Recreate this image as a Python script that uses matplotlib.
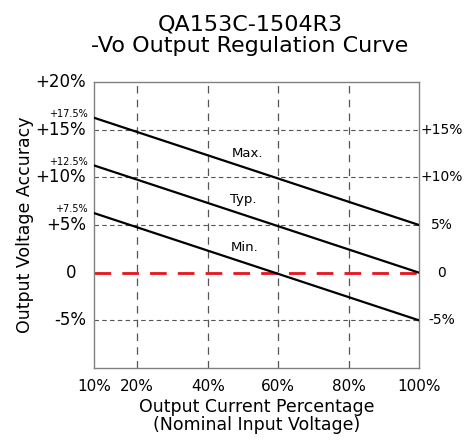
import matplotlib
matplotlib.use("Agg")
import matplotlib.pyplot as plt
import matplotlib.transforms as mtransforms

# Data
x_left = 7.7          # left edge of the axis, labelled "10%"
current_pct = [x_left, 100]
max_curve = [16.25, 5]
typ_curve = [11.25, 0]
min_curve = [6.25, -5]

x_ticks = [x_left, 20, 40, 60, 80, 100]
x_tick_labels = ['10%', '20%', '40%', '60%', '80%', '100%']
x_grid = [20, 40, 60, 80]

left_vals = [20, 15, 10, 5, 0, -5]
left_labels = ['+20%', '+15%', '+10%', '+5%', '0', '-5%']
right_vals = [15, 10, 5, 0, -5]
right_labels = ['+15%', '+10%', '5%', '0', '-5%']
y_grid = [15, 10, 5, -5]

start_vals = [16.6, 11.6, 6.7]
start_labels = ['+17.5%', '+12.5%', '+7.5%']

curve_names = ['Max.', 'Typ.', 'Min.']
name_pos = [(51.4, 12.5), (50, 7.7), (50.6, 2.6)]

fig = plt.figure(figsize=(4.67, 4.40), dpi=100)
ax = fig.add_axes([94 / 467, 72 / 440, 325 / 467, 286 / 440])

ax.set_xlim(x_left, 100)
ax.set_ylim(-10, 20)

# grid
for gx in x_grid:
    ax.axvline(gx, color='#555555', linestyle=(0, (6, 5)), linewidth=0.9, zorder=1)
for gy in y_grid:
    ax.axhline(gy, color='#555555', linestyle=(0, (4, 3)), linewidth=0.8, zorder=1)

# zero line
ax.plot([x_left, 100], [0, 0], color='#e8141c', linestyle=(0, (6, 4)),
        linewidth=2, zorder=2)

# curves
for vals in (max_curve, typ_curve, min_curve):
    ax.plot(current_pct, vals, color='black', linewidth=1.6, zorder=3)

for name, (nx, ny) in zip(curve_names, name_pos):
    ax.text(nx, ny, name, fontsize=9.5, ha='center', va='center')

# axis ticks
ax.set_xticks(x_ticks)
ax.set_xticklabels(x_tick_labels, fontsize=11)
ax.tick_params(axis='x', length=0, pad=8)
ax.set_yticks([])

trans_left = mtransforms.blended_transform_factory(ax.transAxes, ax.transData)
for v, lab in zip(left_vals, left_labels):
    xpos = -0.055 if lab == '0' else -0.025
    ax.text(xpos, v, lab, transform=trans_left, fontsize=12,
            ha='right', va='center')
for v, lab in zip(right_vals, right_labels):
    ax.text(1.07, v, lab, transform=trans_left, fontsize=10,
            ha='center', va='center')
for v, lab in zip(start_vals, start_labels):
    ax.text(-0.02, v, lab, transform=trans_left, fontsize=7,
            ha='right', va='center')

for sp in ax.spines.values():
    sp.set_color('#808080')
    sp.set_linewidth(1)

ax.set_xlabel('Output Current Percentage\n(Nominal Input Voltage)',
              fontsize=12.5, labelpad=3, linespacing=1.0)
fig.text(25 / 467, 1 - 225 / 440, 'Output Voltage Accuracy', rotation=90,
         fontsize=12.5, ha='center', va='center')

fig.text(250 / 467, 1 - 35 / 440, 'QA153C-1504R3\n-Vo Output Regulation Curve',
         fontsize=16, ha='center', va='center', linespacing=1.1)

fig.savefig('out.png', dpi=100)
